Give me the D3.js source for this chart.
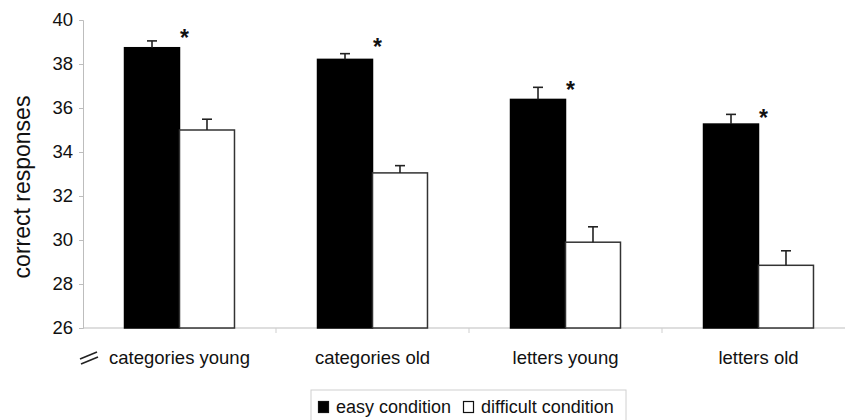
<!DOCTYPE html>
<html>
<head>
<meta charset="utf-8">
<script src="https://cdn.jsdelivr.net/npm/d3@7"></script>
<style>
  body { margin: 0; background: #fff; }
  svg { font-family: "Liberation Sans", Arial, sans-serif; }
</style>
</head>
<body>
<div id="chart"></div>
<script>
// data
const categories = ["categories young", "categories old", "letters young", "letters old"];
const series = ["easy condition", "difficult condition"];
const easyValues = [38.74, 38.21, 36.39, 35.27];
const easyErrors = [0.31, 0.26, 0.55, 0.44];
const difficultValues = [35.0, 33.05, 29.9, 28.85];
const difficultErrors = [0.49, 0.33, 0.7, 0.66];
const starValues = [39.4, 39.0, 37.05, 35.8];   // height of the "*" markers
const yTicks = [26, 28, 30, 32, 34, 36, 38, 40];

const width = 845, height = 420;
const margin = { top: 20, left: 83, bottom: 92 };
const plotRight = 855; // plot runs past the right edge of the picture

const svg = d3.select("#chart").append("svg")
  .attr("width", width)
  .attr("height", height);

const x0 = d3.scaleBand()
  .domain(categories)
  .range([margin.left, plotRight])
  .padding(0);

const x1 = d3.scaleBand()
  .domain(series)
  .range([0, x0.bandwidth()])
  .paddingInner(0)
  .paddingOuter(0.755);

const y = d3.scaleLinear()
  .domain([26, 40])
  .range([height - margin.bottom, margin.top]);

const fills = { "easy condition": "#000", "difficult condition": "#fff" };

const rows = categories.map((c, i) => ({
  cat: c,
  bars: [
    { s: series[0], v: easyValues[i], e: easyErrors[i] },
    { s: series[1], v: difficultValues[i], e: difficultErrors[i] }
  ],
  star: starValues[i]
}));

// y axis
const yAxis = svg.append("g")
  .attr("transform", `translate(${margin.left},0)`)
  .call(d3.axisLeft(y).tickValues(yTicks).tickSize(4).tickPadding(6).tickFormat(d3.format("d")));
yAxis.select(".domain").attr("stroke", "#bdbdbd");
yAxis.selectAll(".tick line").attr("stroke", "#bdbdbd");
yAxis.selectAll(".tick text")
  .attr("fill", "#111")
  .style("font-size", "18.5px");

// x axis line with separators between groups
const xAxis = svg.append("g")
  .attr("transform", `translate(0,${y(26)})`);
xAxis.append("line")
  .attr("x1", margin.left).attr("x2", plotRight)
  .attr("stroke", "#bdbdbd");
xAxis.selectAll("line.sep")
  .data(categories.slice(1))
  .join("line")
  .attr("class", "sep")
  .attr("x1", d => x0(d)).attr("x2", d => x0(d))
  .attr("y1", 0).attr("y2", 5)
  .attr("stroke", "#cfcfcf");

xAxis.selectAll("text.cat")
  .data(categories)
  .join("text")
  .attr("class", "cat")
  .attr("x", d => x0(d) + x0.bandwidth() / 2)
  .attr("y", 36)
  .attr("text-anchor", "middle")
  .attr("fill", "#111")
  .style("font-size", "18.5px")
  .text(d => d);

// axis break mark
const brk = svg.append("g").attr("transform", "translate(80,352)")
  .attr("stroke", "#222").attr("stroke-width", 1.6).attr("fill", "none");
brk.append("path").attr("d", "M0,7 L17,0");
brk.append("path").attr("d", "M1,12 L18,5");

// bars
const groups = svg.selectAll("g.group")
  .data(rows)
  .join("g")
  .attr("class", "group")
  .attr("transform", d => `translate(${x0(d.cat)},0)`);

groups.selectAll("rect")
  .data(d => d.bars)
  .join("rect")
  .attr("x", d => x1(d.s))
  .attr("y", d => y(d.v))
  .attr("width", x1.bandwidth())
  .attr("height", d => y(26) - y(d.v))
  .attr("fill", d => fills[d.s])
  .attr("stroke", d => d.s === series[0] ? "#000" : "#333")
  .attr("stroke-width", 1.5);

// error bars (upper only)
const err = groups.selectAll("g.err")
  .data(d => d.bars)
  .join("g")
  .attr("class", "err")
  .attr("stroke", "#222")
  .attr("stroke-width", 1.6);
err.append("line")
  .attr("x1", d => x1(d.s) + x1.bandwidth() / 2)
  .attr("x2", d => x1(d.s) + x1.bandwidth() / 2)
  .attr("y1", d => y(d.v))
  .attr("y2", d => y(d.v + d.e));
err.append("line")
  .attr("x1", d => x1(d.s) + x1.bandwidth() / 2 - 5)
  .attr("x2", d => x1(d.s) + x1.bandwidth() / 2 + 5)
  .attr("y1", d => y(d.v + d.e))
  .attr("y2", d => y(d.v + d.e));

// significance stars
groups.append("text")
  .attr("x", x1(series[1]) + 5)
  .attr("y", d => y(d.star))
  .attr("dy", "0.57em")
  .attr("text-anchor", "middle")
  .attr("font-weight", "bold")
  .style("font-size", "23px")
  .attr("fill", "#111")
  .text("*");

// y title
svg.append("text")
  .attr("transform", `translate(30,187) rotate(-90)`)
  .attr("text-anchor", "middle")
  .attr("fill", "#111")
  .style("font-size", "23px")
  .text("correct responses");

// legend
const legend = svg.append("g").attr("transform", "translate(311,390)");
legend.append("rect")
  .attr("x", 0).attr("y", 0)
  .attr("width", 315).attr("height", 40)
  .attr("fill", "#fff")
  .attr("stroke", "#d0d0d0");
const legendX = [7, 152];
const item = legend.selectAll("g.item")
  .data(series)
  .join("g")
  .attr("class", "item")
  .attr("transform", (d, i) => `translate(${legendX[i]},0)`);
item.append("rect")
  .attr("x", 0.5).attr("y", 11.5)
  .attr("width", 10).attr("height", 11)
  .attr("fill", d => fills[d])
  .attr("stroke", "#111")
  .attr("stroke-width", 1.2);
item.append("text")
  .attr("x", 18).attr("y", 23)
  .attr("fill", "#111")
  .style("font-size", "18px")
  .text(d => d);
</script>
</body>
</html>
